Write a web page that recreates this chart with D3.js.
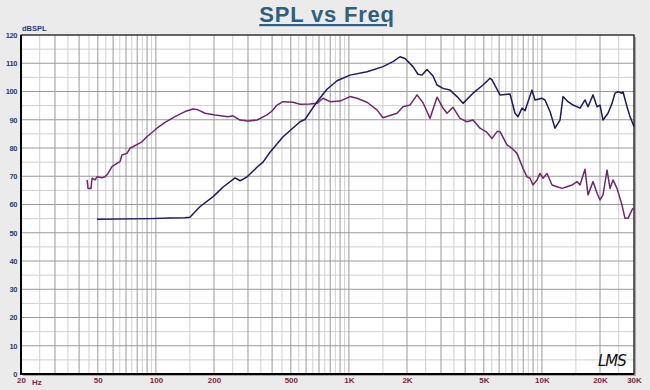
<!DOCTYPE html>
<html>
<head>
<meta charset="utf-8">
<script src="https://cdn.jsdelivr.net/npm/d3@7"></script>
<style>
  body { margin: 0; background: #ebebeb; }
  svg { display: block; font-family: "Liberation Sans", Arial, sans-serif; }
</style>
</head>
<body>
<script>
// chart size
const width = 650;
const height = 390;
const margin = {top: 35, right: 16, bottom: 16, left: 21};
const plotWidth = width - margin.left - margin.right;
const plotHeight = height - margin.top - margin.bottom;

// axis values
const xTicks = [20, 50, 100, 200, 500, 1000, 2000, 5000, 10000, 20000, 30000];
const xTickLabels = ['20', '50', '100', '200', '500', '1K', '2K', '5K', '10K', '20K', '30K'];
const yTicks = [0, 10, 20, 30, 40, 50, 60, 70, 80, 90, 100, 110, 120];

// dark curve
const navyFreq = [49.5, 93, 118, 141, 150, 169, 198, 223, 257, 273, 297, 334, 359, 390, 456, 558, 592, 684, 770,
  868, 1013, 1241, 1502, 1693, 1839, 1953, 2148, 2280, 2392, 2539, 2728, 2861, 3074, 3341, 3632, 3901, 4396,
  4953, 5384, 5514, 6066, 6835, 7254, 7518, 7886, 8173, 8885, 9208, 10012, 10375, 11015, 11691, 12409, 12863,
  13652, 14490, 15753, 16725, 17333, 18400, 19303, 20000, 20727, 22005, 23076, 23915, 24790, 26002, 26315,
  27600, 28603, 30000];
const navyDb = [54.8, 55, 55.2, 55.3, 55.5, 59.2, 62.8, 66.2, 69.4, 68.4, 69.8, 73.2, 75, 78.5, 84, 89.3, 90.1, 96.4, 100.8,
  103.8, 105.8, 107, 108.8, 110.6, 112.3, 111.7, 108.8, 106.1, 105.8, 107.8, 105.5, 102.3, 101.1, 100.5, 98.2, 95.8, 99.4,
  102.3, 104.7, 104.1, 98.8, 99.1, 92.3, 91.1, 94.1, 93.2, 100.5, 97, 97.6, 97, 92.9, 87, 89.9, 98.2,
  96.4, 95.2, 94.1, 97, 94.6, 98.8, 94.6, 95.2, 89.9, 92.3, 95.8, 99.4, 99.9, 99.4, 99.9,
  94.6, 91.1, 87.6];

// purple curve
const purpleFreq = [44, 44.5, 46.1, 46.7, 48.4, 49.5, 52.6, 54.5, 56.5, 59.2, 62.9, 65.2, 66.7, 70.8, 73.4, 84.7, 89.9,
  101.3, 111.5, 125.6, 141.5, 155.7, 165.3, 179.7, 202.4, 236.3, 250.8, 272.7, 300.1, 334.1, 376.4, 399.6, 424.2,
  455.5, 513.3, 558, 628.6, 683.5, 734.2, 798.2, 899.1, 1013, 1101, 1241, 1398, 1502, 1633, 1775, 1907, 2073, 2253,
  2421, 2632, 2861, 3074, 3224, 3463, 3763, 4092, 4396, 4778, 5194, 5514, 5852, 6066, 6594, 6998, 7429, 7980, 8372,
  8675, 8990, 9431, 9774, 10131, 10627, 11281, 11974, 12710, 13490, 14317, 15198, 15753, 16725, 17333, 18400,
  19303, 20000, 20727, 21743, 22531, 23354, 24495, 26002, 26946, 27932, 29297, 29648];
const purpleDb = [68.7, 65.7, 65.7, 69.3, 68.7, 69.8, 69.5, 69.8, 71, 73.4, 74.6, 75.2, 77.5, 78.1, 79.9, 82.2, 84,
  87, 89.1, 91.1, 92.9, 93.8, 93.5, 92.3, 91.7, 91.1, 91.4, 89.9, 89.6, 89.9, 91.7, 93.1, 95.2,
  96.4, 96.2, 95.5, 95.6, 95.8, 97.6, 96.4, 96.6, 98.2, 97.6, 96.2, 93.5, 90.7, 91.5, 92.3, 94.6, 95.2, 98.8,
  96, 90.5, 98, 94.1, 92.3, 94.4, 90.5, 89.3, 89.9, 87, 85.5, 83.4, 85.8, 85.8, 81.1, 79.9, 78.1, 72.8, 69.8,
  69.3, 66.9, 68.7, 71, 69.3, 71, 66.9, 66.3, 65.7, 66.3, 66.9, 68.1, 66.9, 72.5, 63.4, 68.1,
  64, 61.6, 63.4, 72.2, 65.7, 68.7, 65.7, 59.8, 55.1, 55.1, 58.1, 58.7];

let svg = d3.select('body')
  .append('svg')
  .attr('width', width)
  .attr('height', height);

svg.append('rect')
  .attr('width', width)
  .attr('height', height)
  .attr('fill', '#ebebeb');

// title
svg.append('text')
  .attr('x', 327)
  .attr('y', 22)
  .attr('text-anchor', 'middle')
  .style('font', 'bold 22px "Liberation Sans", Arial, sans-serif')
  .style('letter-spacing', '0.8px')
  .style('text-decoration', 'underline')
  .attr('fill', '#2e5f7f')
  .text('SPL vs Freq');

let plot = svg.append('g')
  .attr('transform', `translate(${margin.left},${margin.top})`);

let xScale = d3.scaleLog()
  .domain([20, 30000])
  .range([0, plotWidth]);
let yScale = d3.scaleLinear()
  .domain([0, 120])
  .range([plotHeight, 0]);

// shadow + white plot area
plot.append('rect')
  .attr('x', 2).attr('y', 2)
  .attr('width', plotWidth).attr('height', plotHeight)
  .attr('fill', '#a8a8a8');
plot.append('rect')
  .attr('width', plotWidth).attr('height', plotHeight)
  .attr('fill', '#fff');

// grid lines: whole multiples darker, halves lighter
let majorX = [], minorX = [];
[10, 100, 1000, 10000].forEach(dec => {
  for (let m = 1; m <= 9; m++) {
    if (dec * m >= 20 && dec * m <= 30000) majorX.push(dec * m);
    if (dec * (m + 0.5) > 20 && dec * (m + 0.5) < 30000) minorX.push(dec * (m + 0.5));
  }
});
let minorY = d3.range(5, 120, 10);

plot.append('g')
  .selectAll('line.minx')
  .data(minorX).join('line')
  .attr('x1', d => xScale(d)).attr('x2', d => xScale(d))
  .attr('y1', 0).attr('y2', plotHeight)
  .attr('stroke', '#d0d0d0');
plot.append('g')
  .selectAll('line.miny')
  .data(minorY).join('line')
  .attr('x1', 0).attr('x2', plotWidth)
  .attr('y1', d => yScale(d)).attr('y2', d => yScale(d))
  .attr('stroke', '#d0d0d0');
plot.append('g')
  .selectAll('line.majx')
  .data(majorX).join('line')
  .attr('x1', d => xScale(d)).attr('x2', d => xScale(d))
  .attr('y1', 0).attr('y2', plotHeight)
  .attr('stroke', '#9a9a9a');
plot.append('g')
  .selectAll('line.majy')
  .data(yTicks).join('line')
  .attr('x1', 0).attr('x2', plotWidth)
  .attr('y1', d => yScale(d)).attr('y2', d => yScale(d))
  .attr('stroke', '#9a9a9a');

// curves
let line = d3.line()
  .x(d => xScale(d[0]))
  .y(d => yScale(d[1]));

plot.append('path')
  .datum(purpleFreq.map((f, i) => [f, purpleDb[i]]))
  .attr('d', line)
  .attr('fill', 'none')
  .attr('stroke', '#6c2a6c')
  .attr('stroke-width', 1.5)
  .attr('stroke-linejoin', 'round');

plot.append('path')
  .datum(navyFreq.map((f, i) => [f, navyDb[i]]))
  .attr('d', line)
  .attr('fill', 'none')
  .attr('stroke', '#1c1c5c')
  .attr('stroke-width', 1.5)
  .attr('stroke-linejoin', 'round');

// frame
plot.append('rect')
  .attr('width', plotWidth).attr('height', plotHeight)
  .attr('fill', 'none')
  .attr('stroke', '#000')
  .attr('stroke-width', 1);
plot.append('path')
  .attr('d', `M0,0V${plotHeight}H${plotWidth}`)
  .attr('fill', 'none')
  .attr('stroke', '#000')
  .attr('stroke-width', 2);

// axes (labels only)
let xAxis = d3.axisBottom(xScale)
  .tickValues(xTicks)
  .tickSize(0)
  .tickPadding(3)
  .tickFormat((d, i) => xTickLabels[i]);
let xAxisGroup = plot.append('g')
  .attr('transform', `translate(0,${plotHeight})`)
  .call(xAxis);
xAxisGroup.select('.domain').remove();
xAxisGroup.selectAll('text')
  .style('font', 'bold 8px "Liberation Sans", Arial, sans-serif')
  .attr('fill', '#8a1c3c');

plot.append('text')
  .attr('x', 11)
  .attr('y', plotHeight + 11)
  .style('font', 'bold 8px "Liberation Sans", Arial, sans-serif')
  .attr('fill', '#8a1c3c')
  .text('Hz');

let yAxis = d3.axisLeft(yScale)
  .tickValues(yTicks)
  .tickSize(0)
  .tickPadding(4);
let yAxisGroup = plot.append('g').call(yAxis);
yAxisGroup.select('.domain').remove();
yAxisGroup.selectAll('text')
  .style('font', 'bold 7.5px "Liberation Sans", Arial, sans-serif')
  .style('letter-spacing', '-0.4px')
  .attr('fill', '#1f3d7a');

plot.append('text')
  .attr('x', 1)
  .attr('y', -4)
  .style('font', 'bold 7.5px "Liberation Sans", Arial, sans-serif')
  .attr('fill', '#1f3d7a')
  .text('dBSPL');

// LMS mark
plot.append('text')
  .attr('x', plotWidth - 36)
  .attr('y', plotHeight - 8)
  .style('font', 'italic 15px "DejaVu Sans", sans-serif')
  .style('letter-spacing', '-1px')
  .attr('fill', '#111')
  .text('LMS');
</script>
</body>
</html>
